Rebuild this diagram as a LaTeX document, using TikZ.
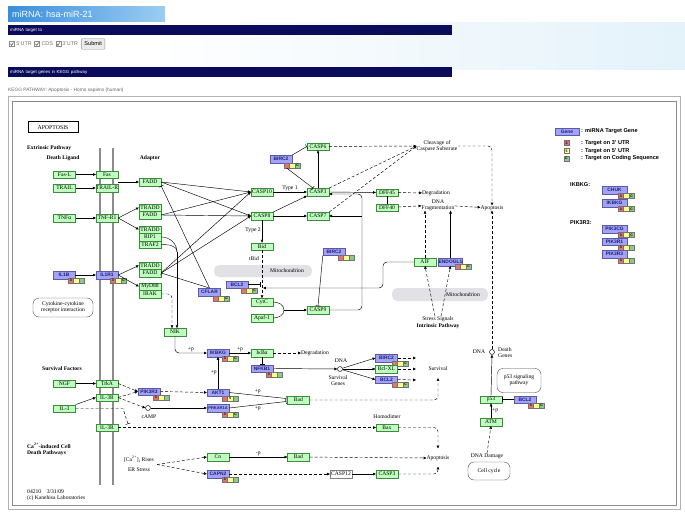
\documentclass[tikz,border=0pt]{standalone}
\usepackage{fontspec}
\setmainfont{Liberation Serif}
\setsansfont{Liberation Sans}
\usetikzlibrary{arrows.meta,positioning,calc}

\definecolor{kgreen}{HTML}{BFFFBF}
\definecolor{kgreenline}{HTML}{3C8C3C}
\definecolor{kpurple}{HTML}{A3A3F5}
\definecolor{kpurpleline}{HTML}{5A5AA8}
\definecolor{kname}{HTML}{1E1E78}
\definecolor{mkred}{HTML}{E87070}
\definecolor{mkyel}{HTML}{FFFF88}
\definecolor{mkgrn}{HTML}{88CC88}
\definecolor{navy}{HTML}{0B0B5C}
\definecolor{mitogray}{HTML}{E2E2E6}
\definecolor{titleblue}{HTML}{3A8EDC}
\definecolor{titlelight}{HTML}{9CCDF2}
\definecolor{headsky}{HTML}{E4F2FA}

\newcommand{\kfont}{\fontsize{5.6}{6.1}\selectfont}
\newcommand{\gfont}{\fontsize{4.9}{5.4}\selectfont\sffamily\bfseries}
% three target markers under a gene box: 3'UTR, 5'UTR, CDS
\newcommand{\utrmark}[6]{%
  \node[mk, fill=mkred] (#1-3) at (#2+2.75,#3+2.5) {#4};
  \node[mk, fill=mkyel] (#1-5) at (#2+8.25,#3+2.5) {#5};
  \node[mk, fill=mkgrn] (#1-c) at (#2+13.75,#3+2.5) {#6};
}

\tikzset{
  gn/.style={draw=kgreenline, fill=kgreen, line width=0.4pt, minimum width=22pt,
    minimum height=7.5pt, inner sep=0pt, font=\kfont},
  tg/.style={draw=kpurpleline, fill=kpurple, line width=0.4pt, minimum width=22pt,
    minimum height=7.5pt, inner sep=0pt, font=\gfont, text=kname},
  mk/.style={draw=black!55, line width=0.3pt, minimum width=5.5pt, minimum height=5pt,
    inner sep=0pt, font=\fontsize{3.5}{4}\selectfont\sffamily\bfseries},
  lbl/.style={font=\kfont, inner sep=0pt, align=center},
  blbl/.style={font=\kfont\bfseries, inner sep=0pt, align=center},
  lgd/.style={font=\fontsize{5.6}{6}\selectfont\sffamily\bfseries, inner sep=0pt, anchor=west},
  conn/.style={line width=0.45pt, -{Triangle[length=2.8pt,width=2.6pt]}},
  dconn/.style={conn, dash pattern=on 3pt off 2pt},
  inh/.style={line width=0.45pt, -{Bar[width=5pt]}},
  dinh/.style={inh, dash pattern=on 3pt off 2pt},
  mito/.style={fill=mitogray, draw=none, rounded corners=5pt},
  roundbox/.style={draw=black!70, line width=0.4pt, rounded corners=6pt, font=\kfont,
    align=center, inner sep=0pt},
  membrane/.style={draw=black!45, line width=2.2pt},
  dnacirc/.style={circle, draw, line width=0.45pt, minimum size=5pt, inner sep=0pt},
  navybar/.style={fill=navy, text=white, font=\fontsize{4.4}{5}\selectfont\sffamily,
    anchor=west, inner xsep=2pt, inner ysep=0pt, minimum height=10pt, text width=440pt},
  chk/.style={draw=black!45, fill=white, minimum size=5pt, inner sep=0pt},
  cbtext/.style={font=\fontsize{5.4}{6}\selectfont\sffamily, text=black!55, inner sep=0.5pt},
  button/.style={draw=black!40, fill=black!8, rounded corners=1pt,
    font=\fontsize{5.6}{6}\selectfont\sffamily, inner xsep=3pt, inner ysep=0pt, minimum height=11pt},
}

\begin{document}
\begin{tikzpicture}[x=1pt, y=-1pt]
\useasboundingbox (0,0) rectangle (685,513);

% page header
\fill[left color=white, right color=headsky] (150,23) rectangle (685,70);
\node[left color=titleblue, right color=titlelight, anchor=west, text width=149pt,
      inner xsep=4pt, minimum height=15pt, text=white,
      font=\fontsize{9}{10}\selectfont\sffamily] (title) at (8,14.5) {miRNA: hsa-miR-21};
\node[navybar] (bar1) at (8,30) {miRNA target to};
\node[chk] (cb1) at (12,44) {};
\node[cbtext, right=1pt of cb1] (utr5) {5'UTR};
\node[chk, right=2pt of utr5] (cb2) {};
\node[cbtext, right=1pt of cb2] (cds) {CDS};
\node[chk, right=2pt of cds] (cb3) {};
\node[cbtext, right=1pt of cb3] (utr3) {3'UTR};
\node[button, right=2.5pt of utr3] (submit) {Submit};
\foreach \c in {cb1,cb2,cb3}
  \draw[line width=0.5pt, black!70] ($(\c.center)+(-1.5,0)$) -- ++(1.2,1.4) -- ++(1.8,-3);
\node[navybar] (bar2) at (8,72) {miRNA target genes in KEGG pathway};
\node[font=\fontsize{4.8}{5}\selectfont\sffamily, text=black!60, anchor=west, inner sep=0pt]
  (kegg) at (8,90) {KEGG PATHWAY: Apoptosis - Homo sapiens (human)};

% frame of the map
\draw[black!30, line width=1pt] (8,97) rectangle (680,509);
\draw[black!45, line width=0.6pt] (12,101) rectangle (676,505);

% membrane and mitochondria
\draw[membrane] (100,148) -- (100,485);
\draw[membrane] (113,148) -- (113,485);
\fill[mito] (214,265) rectangle (312,277);
\fill[mito] (392,288) rectangle (488,301);
\node[lbl] (mito1) at (287,271) {Mitochondrion};
\node[lbl] (mito2) at (463,295) {Mitochondrion};

% titles
\node[draw, line width=1pt, minimum width=50pt, minimum height=11pt, inner sep=0pt,
      font=\fontsize{5.8}{6}\selectfont] (apoptosis) at (53,127.5) {APOPTOSIS};
\node[blbl, anchor=west] (extr) at (27,148) {Extrinsic Pathway};
\node[blbl] (ligand) at (63,158) {Death Ligand};
\node[blbl] (adaptor) at (150,158) {Adaptor};
\node[blbl] (survfac) at (62,369) {Survival Factors};
\node[blbl, align=left, anchor=north west] (cadeath) at (27,443)
  {Ca\textsuperscript{2+}-induced Cell\\Death Pathways};
\node[lbl, align=left, anchor=west] (ver) at (27,492) {04210\quad 3/31/09};
\node[lbl, align=left, anchor=west] (copy) at (27,498) {(c) Kanehisa Laboratories};

% ligands and receptors
\node[gn] (fasl) at (64.5,174.5) {Fas-L};
\node[gn] (fas) at (107,174.5) {Fas};
\node[gn] (trail) at (64.5,188) {TRAIL};
\node[gn] (trailr) at (107,188) {TRAIL-R};
\node[gn] (tnfa) at (64.5,218) {TNFα};
\node[gn] (tnfr) at (107,218) {TNF-R1};
\node[tg] (il1b) at (64,275) {IL1B};
\utrmark{il1b}{68}{278}{3}{}{}
\node[tg] (il1r1) at (107,275) {IL1R1};
\utrmark{il1r1}{110}{278}{3}{}{C}
\node[roundbox, minimum width=60pt, minimum height=19pt] (cytokine) at (63,307.5)
  {Cytokine-cytokine\\receptor interaction};

% adaptors
\node[gn] (fadd1) at (150,182) {FADD};
\node[gn] (tradd1) at (150,207.5) {TRADD};
\node[gn] (fadd2) at (150,215) {FADD};
\node[gn] (tradd2) at (150,229.5) {TRADD};
\node[gn] (rip1) at (150,237) {RIP1};
\node[gn] (traf2) at (150,244.5) {TRAF2};
\node[gn] (tradd3) at (150,265.5) {TRADD};
\node[gn] (fadd3) at (150,273) {FADD};
\node[gn] (myd88) at (150,286.5) {MyD88};
\node[gn] (irak) at (150,294) {IRAK};
\node[gn] (nik) at (175,332) {NIK};
\node[tg] (cflar) at (209.5,292) {CFLAR};
\utrmark{cflar}{213}{296}{}{}{C}

% caspases
\node[gn] (casp10) at (262,192) {CASP10};
\node[gn] (casp8) at (262,216) {CASP8};
\node[gn] (casp3) at (318,192) {CASP3};
\node[gn] (casp7) at (318,216) {CASP7};
\node[gn] (casp6) at (318,146.5) {CASP6};
\node[tg] (birc2a) at (281,159) {BIRC2};
\utrmark{birc2a}{284}{163}{}{}{C}
\node[gn] (bid) at (262,246.5) {Bid};
\node[lbl] (tbid) at (254,259) {tBid};
\node[tg] (bcl2a) at (237,284.5) {BCL2};
\utrmark{bcl2a}{241}{288}{}{}{C}
\node[gn] (cytc) at (262,302) {CytC};
\node[gn] (apaf) at (262,318) {Apaf-1};
\node[gn] (casp9) at (318,310) {CASP9};
\node[tg] (birc2b) at (334,251.5) {BIRC2};
\utrmark{birc2b}{338}{255}{}{}{}
\coordinate (cyj) at (284,310);
\coordinate (tbidbar) at (260,284.5);
\coordinate (mitoin) at (263,288);
\coordinate (c9a) at (362,194);
\coordinate (c9b) at (362,216);
\coordinate (dr) at (118,182);
\coordinate (rtj) at (177,252);

% execution
\node[lbl] (cleav) at (437,146) {Cleavage of\\Caspase Substrate};
\node[gn] (dff45) at (387,192.5) {DFF45};
\node[gn] (dff40) at (387,207.5) {DFF40};
\node[lbl] (degr1) at (436,193) {Degradation};
\node[lbl] (dnafrag) at (438,205) {DNA\\Fragmentation};
\node[lbl] (apop1) at (492,208) {Apoptosis};
\node[gn] (aif) at (425,262) {AIF};
\node[tg] (endog) at (450.5,262) {ENDOGL1};
\utrmark{endog}{455}{264}{}{}{C}
\node[lbl] (stress) at (438,319) {Stress Signals};
\node[blbl] (intr) at (438,326) {Intrinsic Pathway};

% NF-kB and survival
\node[tg] (ikbkg) at (218,353) {IKBKG};
\utrmark{ikbkg}{222}{356}{3}{}{C}
\node[gn] (ikba) at (262,353) {IκBα};
\node[lbl] (degr2) at (315,353) {Degradation};
\node[tg] (nfkb1) at (262,368.5) {NFKB1};
\utrmark{nfkb1}{266}{372}{3}{}{}
\node[lbl] (dna1) at (341,361) {DNA};
\node[dnacirc] (dnac1) at (340,369) {};
\node[lbl] (survgenes) at (338,381) {Survival\\Genes};
\node[tg] (birc2c) at (386.5,358) {BIRC2};
\utrmark{birc2c}{392}{361}{}{}{C}
\node[gn] (bclxl) at (386.5,369) {Bcl-XL};
\node[tg] (bcl2b) at (386.5,379.5) {BCL2};
\utrmark{bcl2b}{392}{382}{}{}{C}
\coordinate (sv1) at (416,358);
\coordinate (sv2) at (416,369);
\coordinate (sv3) at (416,380);
\node[lbl] (survival) at (438,369) {Survival};

% survival factors
\node[gn] (ngf) at (64.5,383.5) {NGF};
\node[gn] (trka) at (107,383.5) {TrkA};
\node[gn] (il3r1) at (107,397.5) {IL-3R};
\node[gn] (il3) at (64.5,408.5) {IL-3};
\node[gn] (il3r2) at (107,427.5) {IL-3R};
\node[tg] (pik3r3) at (149,391.5) {PIK3R3};
\utrmark{pik3r3}{153}{395}{3}{}{}
\node[dnacirc] (campc) at (148,408) {};
\node[lbl] (camp) at (149,417) {cAMP};
\node[tg] (akt1) at (218,392.5) {AKT1};
\utrmark{akt1}{222}{396}{}{5}{}
\node[tg, font=\fontsize{4}{4.5}\selectfont\sffamily\bfseries] (prkar1a) at (218,408) {PRKAR1A};
\utrmark{prkar1a}{222}{412}{3}{}{C}
\node[gn] (bad1) at (298.5,400) {Bad};
\node[lbl] (homodimer) at (387,417) {Homodimer};
\node[gn] (bax) at (387,427.5) {Bax};
\coordinate (il3end) at (128,424);

% calcium
\node[lbl] (carise) at (139,459) {[Ca\textsuperscript{2+}]\textsubscript{i} Rises};
\node[lbl] (erstress) at (139,470) {ER Stress};
\coordinate (castart) at (157,464.5);
\node[gn] (cn) at (218,457) {Cn};
\node[gn] (bad2) at (298.5,457) {Bad};
\node[tg] (capn2) at (218,474) {CAPN2};
\utrmark{capn2}{222}{477}{3}{}{}
\node[gn, draw=black!50, fill=white] (casp12) at (341,474) {CASP12};
\node[gn] (casp3b) at (387,474) {CASP3};
\node[lbl] (apop2) at (438,458) {Apoptosis};

% p53 side
\node[lbl] (dna2) at (479,352) {DNA};
\node[dnacirc] (dnac2) at (492,352) {};
\node[lbl, align=left, anchor=west] (deathgenes) at (498,353) {Death\\Genes};
\node[roundbox, minimum width=44pt, minimum height=24pt] (p53path) at (519,380.5)
  {p53 signaling\\pathway};
\node[gn] (p53) at (491,399.5) {p53};
\node[tg] (bcl2c) at (525,399.5) {BCL2};
\utrmark{bcl2c}{528}{403}{3}{}{C}
\node[gn] (atm) at (491,422) {ATM};
\node[lbl] (dnadmg) at (487,456) {DNA Damage};
\node[roundbox, minimum width=42pt, minimum height=18pt] (cellcycle) at (489,471) {Cell cycle};

% legend
\node[tg, minimum width=24pt] (keygene) at (567,131.5) {Gene};
\node[lgd] (keytxt) at (581,131.5) {: miRNA Target Gene};
\node[mk, fill=mkred] (key3) at (566.5,143) {3};
\node[lgd] (key3txt) at (581,143) {: Target on 3' UTR};
\node[mk, fill=mkyel] (key5) at (566.5,151) {5};
\node[lgd] (key5txt) at (581,151) {: Target on 5' UTR};
\node[mk, fill=mkgrn] (keyc) at (566.5,158.5) {C};
\node[lgd] (keyctxt) at (581,158.5) {: Target on Coding Sequence};
\node[lgd] (ikbkghead) at (570,185) {IKBKG:};
\node[tg, minimum width=25pt] (chuk) at (614.5,190) {CHUK};
\utrmark{chuk}{618}{193.5}{3}{}{C}
\node[tg, minimum width=25pt] (ikbkg2) at (614.5,203) {IKBKG};
\utrmark{ikbkg2}{618}{206.5}{3}{}{C}
\node[lgd] (pikhead) at (570,223) {PIK3R3:};
\node[tg, minimum width=25pt] (pik3cg) at (614.5,229) {PIK3CG};
\utrmark{pik3cg}{618}{232.5}{3}{}{C}
\node[tg, minimum width=25pt] (pik3r1) at (614.5,241.5) {PIK3R1};
\utrmark{pik3r1}{618}{245}{3}{}{}
\node[tg, minimum width=25pt] (pik3r3b) at (614.5,254) {PIK3R3};
\utrmark{pik3r3b}{618}{258}{3}{}{}

% receptor signalling
\draw[conn] (fasl) -- (fas);
\draw[conn] (trail) -- (trailr);
\draw[conn] (tnfa) -- (tnfr);
\draw[conn] (il1b) -- (il1r1);
\draw[conn] (ngf) -- (trka);
\draw[conn] (il3.north east) -- (il3r1.west);
\draw[conn] (dr) -- (fadd1.west);
\draw[conn] (tnfr.east) -- (tradd1.west);
\draw[conn] (tnfr.east) -- (tradd2.west);
\draw[conn] (il1r1.east) -- (tradd3.west);
\draw[conn] (il1r1.east) -- (myd88.west);
\foreach \a in {fadd1,fadd2,fadd3} {
  \draw[conn] (\a.east) -- (casp10.west);
  \draw[conn] (\a.east) -- (casp8.west);
}
\draw[inh] (cflar.north) -- (fadd1.south east);
\draw[inh] (cflar.north) -- (fadd3.east);
\draw (rip1.east) to[out=0, in=90] (rtj);
\draw (traf2.east) to[out=0, in=90] (rtj);
\draw[conn] (rtj) -- (rtj |- nik.north);
\draw[dconn, rounded corners=4pt] (irak.east) -| ([xshift=-3pt]nik.north);
\draw[conn, rounded corners=4pt] (nik.south) |- node[lbl, pos=0.75, above=1.5pt] (pp1) {+p} (ikbkg.west);

% caspase cascade
\draw[conn] (casp10) -- node[lbl, above=1.5pt] (type1) {Type 1} (casp3);
\draw[conn] (casp8.north east) -- (casp3.south west);
\draw[conn] (casp8) -- (casp7);
\draw[conn] (casp8.south) -- node[lbl, left=1pt, pos=0.45] (type2) {Type 2} (bid.north);
\draw[conn] (casp3) -- (casp6);
\draw[inh] (birc2a.north east) -- (casp6.west);
\draw[inh] (birc2a-3.south) -- ([xshift=-5pt]casp3.north);
\draw[dconn] (casp6) -- (cleav.west);
\draw[dconn] (casp3.north east) -- (cleav.west);
\draw[dconn] (casp7.north east) -- (cleav.west);
\draw[dconn, rounded corners=4pt] (cleav.east) -| (apop1.north);
\draw[conn, rounded corners=4pt] (casp9.east) -| (c9a) -- (casp3.east |- c9a);
\draw[conn] (c9b) -- (casp7.east |- c9b);
\draw[conn] (casp3.east) -- (dff45.west);
\draw (dff45) -- (dff40);
\draw[dconn] (dff45) -- (degr1);
\draw[dconn] (dff40) -- (dnafrag);
\draw[dconn] (dnafrag) -- (apop1);

% mitochondrial pathway
\draw[dconn] (bid.south) -- (cytc.north);
\draw[inh] (bcl2a.east) -- (tbidbar);
\draw (cytc.east) to[out=0, in=90] (cyj);
\draw (apaf.east) to[out=0, in=-90] (cyj);
\draw[conn] (cyj) -- (casp9.west);
\draw[inh] (birc2b.south west) -- (casp9.north);
\draw[conn, rounded corners=4pt] (aif.west) -| (383,288) -- (mitoin);
\draw[dconn] (aif.north) -- (aif.north |- dnafrag.south);
\draw[conn] (endog.north) -- (endog.north |- dnafrag.south);
\draw[dconn] ([xshift=-3pt]stress.north) -- (aif.south);
\draw[dconn] ([xshift=3pt]stress.north) -- (endog.south);

% NF-kB branch
\draw[conn] (ikbkg) -- node[lbl, above=1.5pt] (pp2) {+p} (ikba);
\draw[dconn] (ikba) -- (degr2);
\draw[inh] (ikba.south) -- (nfkb1.north);
\draw[conn] (akt1.north) -- node[lbl, left=1pt] (pp3) {+p} (ikbkg.south);
\draw[conn] (nfkb1.east) -- (dnac1.west);
\draw[conn] (dnac1) -- (birc2c.west);
\draw[conn] (dnac1) -- (bclxl.west);
\draw[conn] (dnac1) -- (bcl2b.west);
\draw[dconn] (birc2c.east) -- (sv1);
\draw[dconn] (bclxl.east) -- (sv2);
\draw[dconn] (bcl2b.east) -- (sv3);

% survival factor branch
\draw[dconn] (trka.east) -- (pik3r3.west);
\draw[dconn] (il3r1.east) -- (pik3r3.west);
\draw[dconn] (il3r1.east) -- (campc.west);
\draw[dinh] (il3.east) -- (123,408.5) -- (il3end);
\draw[dconn] (pik3r3.east) -- (akt1.west);
\draw[conn] (campc.east) -- (prkar1a.west);
\draw[inh] (akt1.east) -- node[lbl, above=1.5pt] (pp4) {+p} ($(bad1.west)+(-1,-1.5)$);
\draw[inh] (prkar1a.east) -- node[lbl, below=1.5pt] (pp5) {+p} ($(bad1.west)+(-1,1.5)$);
\draw[dconn, rounded corners=4pt] (bad1.east) -| ([yshift=-7pt]survival.south);
\draw[dconn] (il3r2.east) -- (bax.west);
\draw[dconn, rounded corners=4pt] (bax.east) -| ([yshift=7pt]apop2.north);

% calcium branch
\draw[dconn] (castart) -- (cn.west);
\draw[dconn] (castart) -- (capn2.west);
\draw[conn] (cn) -- node[lbl, above=1.5pt] (mp) {-p} (bad2);
\draw[dconn] (bad2) -- (apop2.west);
\draw[dconn] (capn2) -- (casp12);
\draw[conn] (casp12) -- (casp3b);
\draw[dconn, rounded corners=4pt] (casp3b.east) -| ([yshift=-6pt]apop2.south);

% p53 branch
\draw[conn] (p53.north) -- (dnac2.south);
\draw[dconn] (dnac2.north) -- (apop1.south);
\draw[conn] (atm) -- node[lbl, right=1pt] (pp6) {+p} (p53);
\draw[dconn] (dnadmg.north) -- (atm.south);
\draw[inh] (bcl2c.west) -- (p53.east);
\end{tikzpicture}
\end{document}
